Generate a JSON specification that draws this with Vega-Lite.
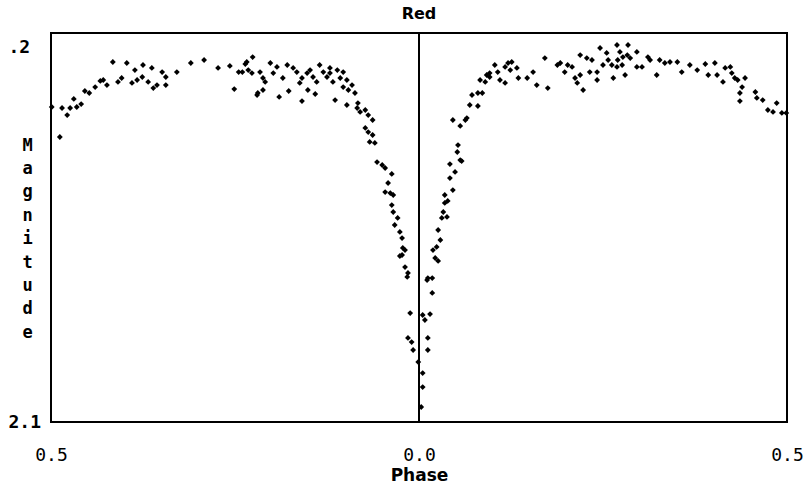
{
  "$schema": "https://vega.github.io/schema/vega-lite/v6.json",
  "width": 736,
  "height": 389,
  "autosize": "none",
  "padding": {"left": 51, "top": 33, "right": 23, "bottom": 66},
  "background": "white",
  "config": {
    "view": {"stroke": "#000", "strokeWidth": 2},
    "font": "DejaVu Sans Mono"
  },
  "title": {"text": "Red", "font": "DejaVu Sans", "fontWeight": "bold", "fontSize": 16, "offset": 10, "color": "#000", "anchor": "middle"},
  "data": {"values": [
    {"phase": -0.499, "mag": 0.504}, {"phase": -0.485, "mag": 0.509}, {"phase": -0.478, "mag": 0.545}, {"phase": -0.474, "mag": 0.509},
    {"phase": -0.469, "mag": 0.463}, {"phase": -0.465, "mag": 0.504}, {"phase": -0.459, "mag": 0.489}, {"phase": -0.454, "mag": 0.423},
    {"phase": -0.448, "mag": 0.433}, {"phase": -0.440, "mag": 0.403}, {"phase": -0.433, "mag": 0.372}, {"phase": -0.429, "mag": 0.367},
    {"phase": -0.424, "mag": 0.393}, {"phase": -0.416, "mag": 0.276}, {"phase": -0.409, "mag": 0.377}, {"phase": -0.404, "mag": 0.357},
    {"phase": -0.397, "mag": 0.281}, {"phase": -0.390, "mag": 0.382}, {"phase": -0.386, "mag": 0.317}, {"phase": -0.383, "mag": 0.367},
    {"phase": -0.376, "mag": 0.352}, {"phase": -0.375, "mag": 0.291}, {"phase": -0.368, "mag": 0.377}, {"phase": -0.363, "mag": 0.306},
    {"phase": -0.361, "mag": 0.408}, {"phase": -0.356, "mag": 0.393}, {"phase": -0.349, "mag": 0.327}, {"phase": -0.344, "mag": 0.352},
    {"phase": -0.344, "mag": 0.393}, {"phase": -0.329, "mag": 0.327}, {"phase": -0.488, "mag": 0.656}, {"phase": -0.310, "mag": 0.281},
    {"phase": -0.292, "mag": 0.266}, {"phase": -0.273, "mag": 0.306}, {"phase": -0.257, "mag": 0.296}, {"phase": -0.251, "mag": 0.413},
    {"phase": -0.245, "mag": 0.327},
    {"phase": -0.240, "mag": 0.327}, {"phase": -0.236, "mag": 0.286}, {"phase": -0.234, "mag": 0.276}, {"phase": -0.232, "mag": 0.317},
    {"phase": -0.227, "mag": 0.332}, {"phase": -0.226, "mag": 0.251}, {"phase": -0.220, "mag": 0.443}, {"phase": -0.219, "mag": 0.433},
    {"phase": -0.216, "mag": 0.327}, {"phase": -0.212, "mag": 0.357}, {"phase": -0.212, "mag": 0.418}, {"phase": -0.209, "mag": 0.377},
    {"phase": -0.202, "mag": 0.281}, {"phase": -0.198, "mag": 0.332}, {"phase": -0.193, "mag": 0.301}, {"phase": -0.190, "mag": 0.453},
    {"phase": -0.185, "mag": 0.357}, {"phase": -0.179, "mag": 0.291}, {"phase": -0.177, "mag": 0.423}, {"phase": -0.171, "mag": 0.306},
    {"phase": -0.166, "mag": 0.327}, {"phase": -0.162, "mag": 0.382}, {"phase": -0.159, "mag": 0.357}, {"phase": -0.159, "mag": 0.474},
    {"phase": -0.152, "mag": 0.332}, {"phase": -0.151, "mag": 0.418}, {"phase": -0.148, "mag": 0.317}, {"phase": -0.144, "mag": 0.352},
    {"phase": -0.141, "mag": 0.438}, {"phase": -0.139, "mag": 0.377}, {"phase": -0.135, "mag": 0.291}, {"phase": -0.130, "mag": 0.327},
    {"phase": -0.125, "mag": 0.352}, {"phase": -0.121, "mag": 0.332}, {"phase": -0.121, "mag": 0.306}, {"phase": -0.117, "mag": 0.377},
    {"phase": -0.114, "mag": 0.469}, {"phase": -0.111, "mag": 0.317}, {"phase": -0.107, "mag": 0.357}, {"phase": -0.103, "mag": 0.403},
    {"phase": -0.103, "mag": 0.327}, {"phase": -0.098, "mag": 0.367}, {"phase": -0.098, "mag": 0.494}, {"phase": -0.096, "mag": 0.418},
    {"phase": -0.091, "mag": 0.393}, {"phase": -0.087, "mag": 0.433}, {"phase": -0.084, "mag": 0.509}, {"phase": -0.083, "mag": 0.484},
    {"phase": -0.080, "mag": 0.529}, {"phase": -0.073, "mag": 0.519}, {"phase": -0.069, "mag": 0.545}, {"phase": -0.063, "mag": 0.570},
    {"phase": -0.073, "mag": 0.610}, {"phase": -0.069, "mag": 0.631}, {"phase": -0.063, "mag": 0.646}, {"phase": -0.067, "mag": 0.681},
    {"phase": -0.060, "mag": 0.686},
    {"phase": -0.057, "mag": 0.783}, {"phase": -0.050, "mag": 0.798}, {"phase": -0.046, "mag": 0.813}, {"phase": -0.037, "mag": 0.843},
    {"phase": -0.042, "mag": 0.889}, {"phase": -0.046, "mag": 0.935}, {"phase": -0.039, "mag": 0.940}, {"phase": -0.035, "mag": 0.950},
    {"phase": -0.037, "mag": 1.001}, {"phase": -0.035, "mag": 1.036}, {"phase": -0.029, "mag": 1.066}, {"phase": -0.033, "mag": 1.102},
    {"phase": -0.026, "mag": 1.137}, {"phase": -0.023, "mag": 1.168}, {"phase": -0.022, "mag": 1.218}, {"phase": -0.019, "mag": 1.229},
    {"phase": -0.023, "mag": 1.254}, {"phase": -0.026, "mag": 1.259}, {"phase": -0.019, "mag": 1.315}, {"phase": -0.015, "mag": 1.345},
    {"phase": -0.016, "mag": 1.365}, {"phase": -0.012, "mag": 1.548}, {"phase": -0.015, "mag": 1.674}, {"phase": -0.010, "mag": 1.695},
    {"phase": -0.008, "mag": 1.735}, {"phase": -0.001, "mag": 1.796}, {"phase": 0.005, "mag": 1.558}, {"phase": 0.008, "mag": 1.583},
    {"phase": 0.005, "mag": 1.852}, {"phase": 0.005, "mag": 1.923}, {"phase": 0.003, "mag": 2.024},
    {"phase": 0.011, "mag": 1.381}, {"phase": 0.012, "mag": 1.371}, {"phase": 0.018, "mag": 1.371}, {"phase": 0.018, "mag": 1.446},
    {"phase": 0.015, "mag": 1.553}, {"phase": 0.012, "mag": 1.674}, {"phase": 0.012, "mag": 1.735}, {"phase": 0.019, "mag": 1.229},
    {"phase": 0.022, "mag": 1.269}, {"phase": 0.026, "mag": 1.284}, {"phase": 0.024, "mag": 1.213}, {"phase": 0.029, "mag": 1.178},
    {"phase": 0.026, "mag": 1.127}, {"phase": 0.031, "mag": 1.066}, {"phase": 0.033, "mag": 1.036}, {"phase": 0.038, "mag": 1.061},
    {"phase": 0.035, "mag": 0.990}, {"phase": 0.039, "mag": 0.980}, {"phase": 0.035, "mag": 0.950}, {"phase": 0.046, "mag": 0.925},
    {"phase": 0.042, "mag": 0.864}, {"phase": 0.049, "mag": 0.833}, {"phase": 0.042, "mag": 0.793}, {"phase": 0.056, "mag": 0.773},
    {"phase": 0.058, "mag": 0.778}, {"phase": 0.052, "mag": 0.732}, {"phase": 0.053, "mag": 0.697}, {"phase": 0.046, "mag": 0.570},
    {"phase": 0.056, "mag": 0.600}, {"phase": 0.063, "mag": 0.570}, {"phase": 0.065, "mag": 0.560}, {"phase": 0.069, "mag": 0.494},
    {"phase": 0.080, "mag": 0.499}, {"phase": 0.072, "mag": 0.443}, {"phase": 0.080, "mag": 0.433}, {"phase": 0.086, "mag": 0.433},
    {"phase": 0.083, "mag": 0.367}, {"phase": 0.090, "mag": 0.377}, {"phase": 0.092, "mag": 0.342}, {"phase": 0.096, "mag": 0.332},
    {"phase": 0.096, "mag": 0.352},
    {"phase": 0.103, "mag": 0.291}, {"phase": 0.107, "mag": 0.327}, {"phase": 0.110, "mag": 0.367}, {"phase": 0.117, "mag": 0.382},
    {"phase": 0.117, "mag": 0.301}, {"phase": 0.121, "mag": 0.281}, {"phase": 0.126, "mag": 0.276}, {"phase": 0.124, "mag": 0.317},
    {"phase": 0.133, "mag": 0.306}, {"phase": 0.135, "mag": 0.357}, {"phase": 0.147, "mag": 0.357}, {"phase": 0.155, "mag": 0.327},
    {"phase": 0.160, "mag": 0.393}, {"phase": 0.175, "mag": 0.408}, {"phase": 0.171, "mag": 0.256}, {"phase": 0.188, "mag": 0.291},
    {"phase": 0.192, "mag": 0.281}, {"phase": 0.198, "mag": 0.327}, {"phase": 0.202, "mag": 0.291}, {"phase": 0.208, "mag": 0.301},
    {"phase": 0.212, "mag": 0.357}, {"phase": 0.219, "mag": 0.342}, {"phase": 0.215, "mag": 0.382}, {"phase": 0.223, "mag": 0.418},
    {"phase": 0.219, "mag": 0.241}, {"phase": 0.228, "mag": 0.256}, {"phase": 0.235, "mag": 0.266}, {"phase": 0.232, "mag": 0.327},
    {"phase": 0.242, "mag": 0.327}, {"phase": 0.242, "mag": 0.367}, {"phase": 0.246, "mag": 0.205}, {"phase": 0.250, "mag": 0.291},
    {"phase": 0.255, "mag": 0.230}, {"phase": 0.257, "mag": 0.266}, {"phase": 0.262, "mag": 0.291}, {"phase": 0.264, "mag": 0.357},
    {"phase": 0.269, "mag": 0.190}, {"phase": 0.269, "mag": 0.301}, {"phase": 0.273, "mag": 0.225}, {"phase": 0.276, "mag": 0.291},
    {"phase": 0.277, "mag": 0.251}, {"phase": 0.270, "mag": 0.266}, {"phase": 0.280, "mag": 0.342}, {"phase": 0.284, "mag": 0.190},
    {"phase": 0.283, "mag": 0.241}, {"phase": 0.287, "mag": 0.256}, {"phase": 0.296, "mag": 0.225}, {"phase": 0.296, "mag": 0.301},
    {"phase": 0.303, "mag": 0.301}, {"phase": 0.311, "mag": 0.251}, {"phase": 0.314, "mag": 0.266}, {"phase": 0.323, "mag": 0.342},
    {"phase": 0.327, "mag": 0.266}, {"phase": 0.334, "mag": 0.281}, {"phase": 0.341, "mag": 0.276}, {"phase": 0.351, "mag": 0.276},
    {"phase": 0.357, "mag": 0.327}, {"phase": 0.368, "mag": 0.291}, {"phase": 0.378, "mag": 0.317}, {"phase": 0.389, "mag": 0.286},
    {"phase": 0.393, "mag": 0.342}, {"phase": 0.402, "mag": 0.281}, {"phase": 0.405, "mag": 0.342}, {"phase": 0.413, "mag": 0.377},
    {"phase": 0.416, "mag": 0.306}, {"phase": 0.423, "mag": 0.301}, {"phase": 0.425, "mag": 0.332}, {"phase": 0.429, "mag": 0.357},
    {"phase": 0.433, "mag": 0.367}, {"phase": 0.443, "mag": 0.357}, {"phase": 0.439, "mag": 0.403}, {"phase": 0.436, "mag": 0.433},
    {"phase": 0.436, "mag": 0.474}, {"phase": 0.457, "mag": 0.428}, {"phase": 0.459, "mag": 0.458}, {"phase": 0.467, "mag": 0.469},
    {"phase": 0.474, "mag": 0.519}, {"phase": 0.481, "mag": 0.529}, {"phase": 0.486, "mag": 0.484}, {"phase": 0.493, "mag": 0.534},
    {"phase": 0.499, "mag": 0.534}
  ]},
  "layer": [
    {
      "mark": {"type": "point", "shape": "diamond", "filled": true, "color": "#000", "size": 34, "opacity": 1},
      "encoding": {
        "x": {
          "field": "phase", "type": "quantitative",
          "scale": {"domain": [-0.5, 0.5], "nice": false, "zero": false},
          "axis": {
            "title": "Phase", "values": [-0.5, 0, 0.5],
            "labelExpr": "format(abs(datum.value), '.1f')",
            "grid": false, "ticks": false, "tickSize": 0, "domain": false,
            "labelPadding": 24, "labelFontSize": 18, "labelFont": "DejaVu Sans Mono", "labelColor": "#000",
            "labelFlush": false, "labelOverlap": false, "labelBound": false,
            "titleFont": "DejaVu Sans", "titleFontWeight": "bold", "titleFontSize": 17, "titleColor": "#000",
            "titleY": 45, "titleBaseline": "top"
          }
        },
        "y": {
          "field": "mag", "type": "quantitative",
          "scale": {"domain": [0.129, 2.1], "reverse": true, "nice": false, "zero": false},
          "axis": {
            "title": ["M", "a", "g", "n", "i", "t", "u", "d", "e"],
            "titleAngle": 0, "titleX": -24, "titleY": 104, "titleAlign": "center", "titleBaseline": "top",
            "titleLineHeight": 23.4, "titleFont": "DejaVu Sans Mono", "titleFontWeight": "bold", "titleFontSize": 17, "titleColor": "#000",
            "values": [0.2, 2.1],
            "labelExpr": "datum.value < 1 ? '.2' : '2.1'",
            "labelAlign": "left", "labelBaseline": "middle", "labelPadding": 43,
            "labelFontSize": 18, "labelFontWeight": "bold", "labelFont": "DejaVu Sans Mono", "labelColor": "#000",
            "labelOverlap": false, "labelBound": false, "labelFlush": false,
            "grid": false, "ticks": false, "tickSize": 0, "domain": false
          }
        }
      }
    },
    {
      "data": {"values": [{"phase": 0}]},
      "mark": {"type": "rule", "color": "#000", "strokeWidth": 2},
      "encoding": {"x": {"field": "phase", "type": "quantitative"}}
    }
  ]
}
